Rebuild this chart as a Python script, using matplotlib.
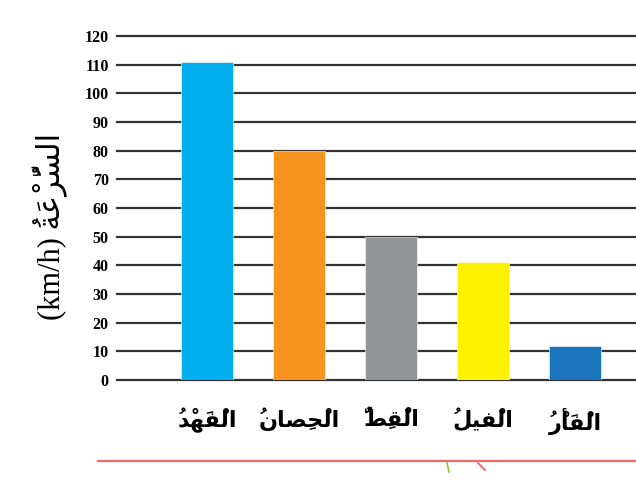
import matplotlib
matplotlib.use("Agg")
import matplotlib.pyplot as plt
from matplotlib.lines import Line2D

# ---------------- data ----------------
animals = ["الْفَهْدُ", "الْحِصانُ", "الْقِطُّ", "الْفيلُ", "الْفَأْرُ"]
speeds = [111, 80, 50, 41, 12]
colors = ["#00AEEF", "#F7941D", "#939598", "#FFF200", "#1C75BC"]
yticks = list(range(0, 121, 10))
ylabel_ar = "السُّرْعَةُ"
ylabel_unit = "(km/h)"

# ------------- simple Arabic shaping (presentation forms) -------------
FORMS = {  # iso, fin, ini, med
    "ا": ("\uFE8D", "\uFE8E", None, None),
    "أ": ("\uFE83", "\uFE84", None, None),
    "ل": ("\uFEDD", "\uFEDE", "\uFEDF", "\uFEE0"),
    "ف": ("\uFED1", "\uFED2", "\uFED3", "\uFED4"),
    "ه": ("\uFEE9", "\uFEEA", "\uFEEB", "\uFEEC"),
    "د": ("\uFEA9", "\uFEAA", None, None),
    "ح": ("\uFEA1", "\uFEA2", "\uFEA3", "\uFEA4"),
    "ص": ("\uFEB9", "\uFEBA", "\uFEBB", "\uFEBC"),
    "ن": ("\uFEE5", "\uFEE6", "\uFEE7", "\uFEE8"),
    "ق": ("\uFED5", "\uFED6", "\uFED7", "\uFED8"),
    "ط": ("\uFEC1", "\uFEC2", "\uFEC3", "\uFEC4"),
    "ي": ("\uFEF1", "\uFEF2", "\uFEF3", "\uFEF4"),
    "ر": ("\uFEAD", "\uFEAE", None, None),
    "س": ("\uFEB1", "\uFEB2", "\uFEB3", "\uFEB4"),
    "ع": ("\uFEC9", "\uFECA", "\uFECB", "\uFECC"),
    "ة": ("\uFE93", "\uFE94", None, None),
}
MARKS = set("\u064B\u064C\u064D\u064E\u064F\u0650\u0651\u0652")


def shape(word):
    clusters = []
    for ch in word:
        if ch in MARKS and clusters:
            clusters[-1][1].append(ch)
        else:
            clusters.append([ch, []])
    out = []
    n = len(clusters)
    for i, (base, marks) in enumerate(clusters):
        f = FORMS.get(base)
        if f is None:
            g = base
        else:
            prev_join = i > 0 and FORMS.get(clusters[i - 1][0]) is not None \
                and FORMS[clusters[i - 1][0]][2] is not None
            next_join = i < n - 1 and FORMS.get(clusters[i + 1][0]) is not None \
                and f[2] is not None
            if prev_join and next_join:
                g = f[3]
            elif prev_join:
                g = f[1]
            elif next_join:
                g = f[2]
            else:
                g = f[0]
        out.append("".join(marks) + g)
    return "".join(reversed(out))


# ---------------- figure ----------------
fig = plt.figure(figsize=(6.36, 4.8), dpi=100)
ax = fig.add_axes([117 / 636, 100 / 480, 519 / 636, 344 / 480])

x = list(range(len(animals)))
ax.set_xlim(-0.978, 4.663)
ax.set_ylim(0, 120)

for t in yticks:
    ax.axhline(t, color="#333333", lw=1.6, zorder=1, clip_on=False)

ax.bar(x, speeds, width=0.565, color=colors, zorder=3,
       edgecolor="white", linewidth=0.4)

for s in ax.spines.values():
    s.set_visible(False)

ax.set_yticks(yticks)
ax.set_yticklabels([str(t) for t in yticks], fontfamily="Liberation Serif",
                   fontweight="bold", fontsize=11.5)
ax.tick_params(axis="y", length=0, pad=6)

ax.set_xticks(x)
ax.set_xticklabels([shape(a) for a in animals],
                   fontfamily=["DejaVu Sans"], fontweight="bold", fontsize=16)
ax.tick_params(axis="x", length=0, pad=20)

fig.text(50 / 636, 1 - 226 / 480, ylabel_unit + " " + shape(ylabel_ar),
         rotation=90, ha="center", va="center", fontsize=22,
         family=["Liberation Serif", "DejaVu Sans"])

# decorative strokes at the bottom edge of the scan
fig.add_artist(Line2D([98 / 636, 1.0], [1 - 461 / 480] * 2,
                      transform=fig.transFigure, color="#F26A6A", lw=1.6))
fig.add_artist(Line2D([447 / 636, 449 / 636], [1 - 463 / 480, 1 - 472 / 480],
                      transform=fig.transFigure, color="#8CC63F", lw=1.2))
fig.add_artist(Line2D([478 / 636, 485 / 636], [1 - 463 / 480, 1 - 470 / 480],
                      transform=fig.transFigure, color="#F26A6A", lw=1.4))

fig.savefig("out.png", dpi=100)
